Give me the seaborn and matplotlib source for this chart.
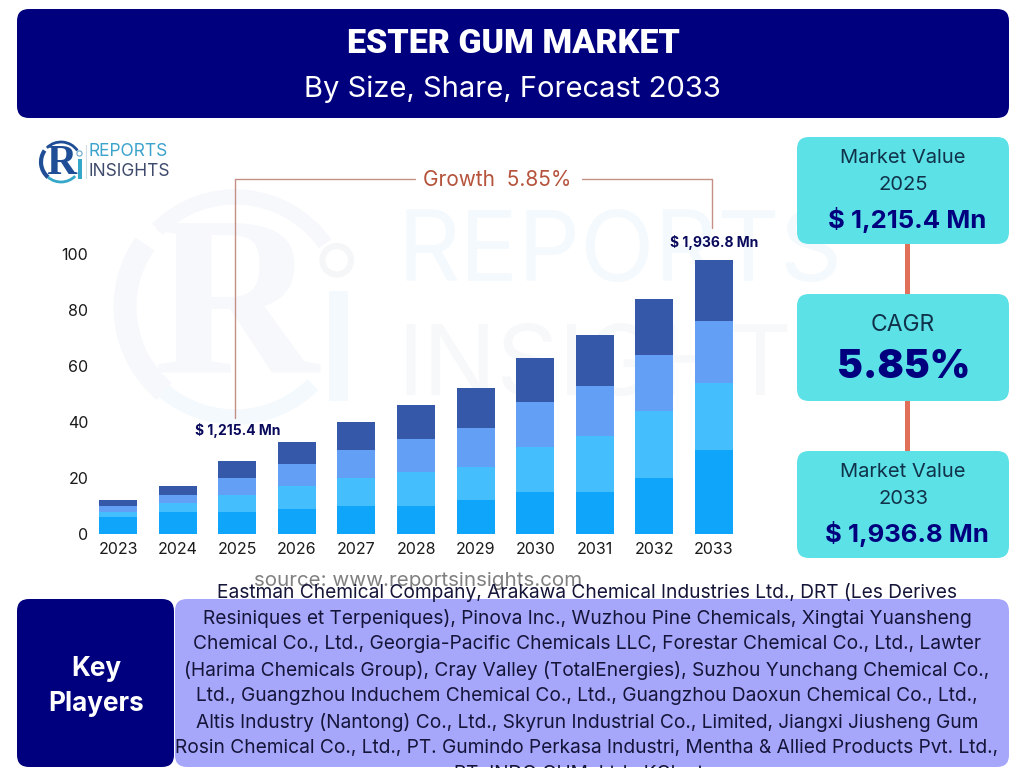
import seaborn as sns
import matplotlib.pyplot as plt
import numpy as np
from matplotlib.patches import FancyBboxPatch, Arc, Circle, Rectangle

sns.set_theme(style='white')
plt.rcParams['font.family'] = ['Inter', 'DejaVu Sans']

years = ['2023', '2024', '2025', '2026', '2027', '2028', '2029', '2030', '2031', '2032', '2033']
seg_1 = [6, 8, 8, 9, 10, 10, 12, 15, 15, 20, 30]
seg_2 = [2, 3, 6, 8, 10, 12, 12, 16, 20, 24, 24]
seg_3 = [2, 3, 6, 8, 10, 12, 14, 16, 18, 20, 22]
seg_4 = [2, 3, 6, 8, 10, 12, 14, 16, 18, 20, 22]
seg_colors = ['#0EA5FB', '#45BEFD', '#629FF5', '#3558A8']
y_ticks = [0, 20, 40, 60, 80, 100]

bar_labels = {'2025': '$ 1,215.4 Mn', '2033': '$ 1,936.8 Mn'}
label_offset_pt = {'2025': 17, '2033': 7}

players = [
    'Eastman Chemical Company, Arakawa Chemical Industries Ltd., DRT (Les Derives',
    'Resiniques et Terpeniques), Pinova Inc., Wuzhou Pine Chemicals, Xingtai Yuansheng',
    'Chemical Co., Ltd., Georgia-Pacific Chemicals LLC, Forestar Chemical Co., Ltd., Lawter',
    '(Harima Chemicals Group), Cray Valley (TotalEnergies), Suzhou Yunchang Chemical Co.,',
    'Ltd., Guangzhou Induchem Chemical Co., Ltd., Guangzhou Daoxun Chemical Co., Ltd.,',
    'Altis Industry (Nantong) Co., Ltd., Skyrun Industrial Co., Limited, Jiangxi Jiusheng Gum',
    'Rosin Chemical Co., Ltd., PT. Gumindo Perkasa Industri, Mentha & Allied Products Pvt. Ltd.,',
    'PT. INDO GUM, Ltd., KCI, etc.',
]

NAVY = '#00007F'
TEAL = '#5CE1E6'
LAVENDER = '#A6A6FB'
ORANGE = '#E0705A'


def panel(ax, x0, y0, x1, y1, color, r=12):
    ax.add_patch(FancyBboxPatch((x0, y0), x1 - x0, y1 - y0, facecolor=color, edgecolor='none',
                                boxstyle=f'round,pad=0,rounding_size={r}', zorder=1))


def logo(ax, cx, cy, r, navy, light, ring):
    # k scales everything from the small logo, whose ring radius is 20px
    k = r / 20
    ax.add_patch(Arc((cx, cy), 2 * r, 2 * r, theta1=130, theta2=215, color=navy, lw=3 * k, zorder=0.5))
    ax.add_patch(Arc((cx, cy), 2 * r, 2 * r, theta1=225, theta2=325, color=navy, lw=2 * k, zorder=0.5))
    ax.add_patch(Arc((cx, cy), 2 * r, 2 * r, theta1=45, theta2=130, color=light, lw=2 * k, zorder=0.5))
    ax.text(cx, cy + 2 * k, 'R', family='Liberation Serif', weight='bold', color=navy,
            fontsize=30 * k, ha='center', va='center', zorder=0.5)
    ax.add_patch(Rectangle((cx + 17 * k, cy - 3 * k), 3.5 * k, 20 * k, color=light, lw=0, zorder=0.5))
    ax.add_patch(Circle((cx + 18.5 * k, cy - 8.5 * k), 2.6 * k, facecolor='none', edgecolor=ring,
                        lw=0.8 * k, zorder=0.5))


fig = plt.figure(figsize=(10.24, 7.68), dpi=100, facecolor='white')

# pixel canvas behind the chart for panels, logo and captions
bg = fig.add_axes([0, 0, 1, 1], zorder=0)
bg.set_xlim(0, 1024)
bg.set_ylim(768, 0)
bg.axis('off')

# watermark
logo(bg, 235, 307, 110, '#F6F8FC', '#F3F9FD', '#F5F6F8')
bg.text(398, 256, 'REPORTS', fontsize=70, color='#F3F9FD', va='center', ha='left', zorder=0.5)
bg.text(398, 370, 'INSIGHTS', fontsize=70, color='#F7F8FA', va='center', ha='left', zorder=0.5)

# header
panel(bg, 17, 9, 1009, 118, NAVY)
bg.text(513, 44, 'ESTER GUM MARKET', family='Roboto', weight='black', fontsize=24.5, color='white',
        ha='center', va='center')
bg.text(512, 89, 'By Size, Share, Forecast 2033', fontsize=21, color='white', ha='center', va='center')

# small logo
logo(bg, 61, 162, 20, '#1F4E96', '#35A7C9', '#6AA7C9')
bg.plot([85.5, 85.5], [145, 178], color='#D5DCE4', lw=0.8)
bg.text(89, 152, 'REPORTS', fontsize=12.5, color='#3BA3CC', va='center', ha='left')
bg.text(89, 171, 'INSIGHTS', fontsize=12.5, color='#3E4A6B', va='center', ha='left')

# growth bracket
bg.plot([235, 235, 415], [418, 179, 179], color='#C48F85', lw=1)
bg.plot([582, 712, 712], [179, 179, 228], color='#C48F85', lw=1)
bg.text(497, 180, 'Growth  5.85%', fontsize=15, color='#B5533C', ha='center', va='center')

# right hand panels
bg.add_patch(Rectangle((905, 244), 4.5, 50, color=ORANGE, lw=0))
bg.add_patch(Rectangle((905, 401), 4.5, 50, color=ORANGE, lw=0))
panel(bg, 797, 137, 1009, 244, TEAL)
panel(bg, 797, 294, 1009, 401, TEAL)
panel(bg, 797, 451, 1009, 558, TEAL)
for top, yr, val in [(137, '2025', '$ 1,215.4 Mn'), (451, '2033', '$ 1,936.8 Mn')]:
    bg.text(903, top + 21, 'Market Value', fontsize=14.5, color='#10324A', ha='center', va='center')
    bg.text(903, top + 48, yr, fontsize=14.5, color='#10324A', ha='center', va='center')
    bg.text(907, top + 83, val, fontsize=18.5, weight='bold', color=NAVY, ha='center', va='center')
bg.text(903, 325, 'CAGR', fontsize=16.5, color='#10324A', ha='center', va='center')
bg.text(904, 367, '5.85%', fontsize=28, weight='black', color=NAVY, ha='center', va='center')

# bottom block
bg.text(418, 581, 'source: www.reportsinsights.com', fontsize=14.8, color='#808080', ha='center', va='center')
panel(bg, 17, 599, 174, 767, NAVY)
panel(bg, 175, 599, 1009, 767, LAVENDER)
bg.text(96, 669, 'Key', fontsize=18.8, weight='bold', color='white', ha='center', va='center')
bg.text(96, 704, 'Players', fontsize=18.8, weight='bold', color='white', ha='center', va='center')
for i, line in enumerate(players):
    bg.text(587, 592 + 26 * i, line, fontsize=13.8, color='#15153A', ha='center', va='center', zorder=3)

# stacked bars, placed so value 0 sits at y=534px and 100 at y=254px
ax = fig.add_axes([88.2 / 1024, (768 - 534) / 768, 655.6 / 1024, 280 / 768], zorder=1)
ax.patch.set_alpha(0)
bottom = np.zeros(len(years))
for seg, color in zip([seg_1, seg_2, seg_3, seg_4], seg_colors):
    sns.barplot(x=years, y=seg, bottom=bottom, color=color, saturation=1, width=0.64, linewidth=0, ax=ax)
    bottom = bottom + np.array(seg)

ax.set_xlim(-0.5, 10.5)
ax.set_ylim(0, 100)
ax.set_yticks(y_ticks)
ax.tick_params(axis='both', length=0, labelsize=11.5, labelcolor='#1A1A1A')
ax.tick_params(axis='x', pad=6)
ax.tick_params(axis='y', pad=0)
sns.despine(ax=ax, left=True, bottom=True)

for yr, label in bar_labels.items():
    i = years.index(yr)
    ax.annotate(label, (i, bottom[i]), xytext=(0, label_offset_pt[yr]), textcoords='offset points',
                ha='center', va='bottom', fontsize=10, weight='bold', color='#0A0A5C', annotation_clip=False)

plt.savefig('out.png', dpi=100)
